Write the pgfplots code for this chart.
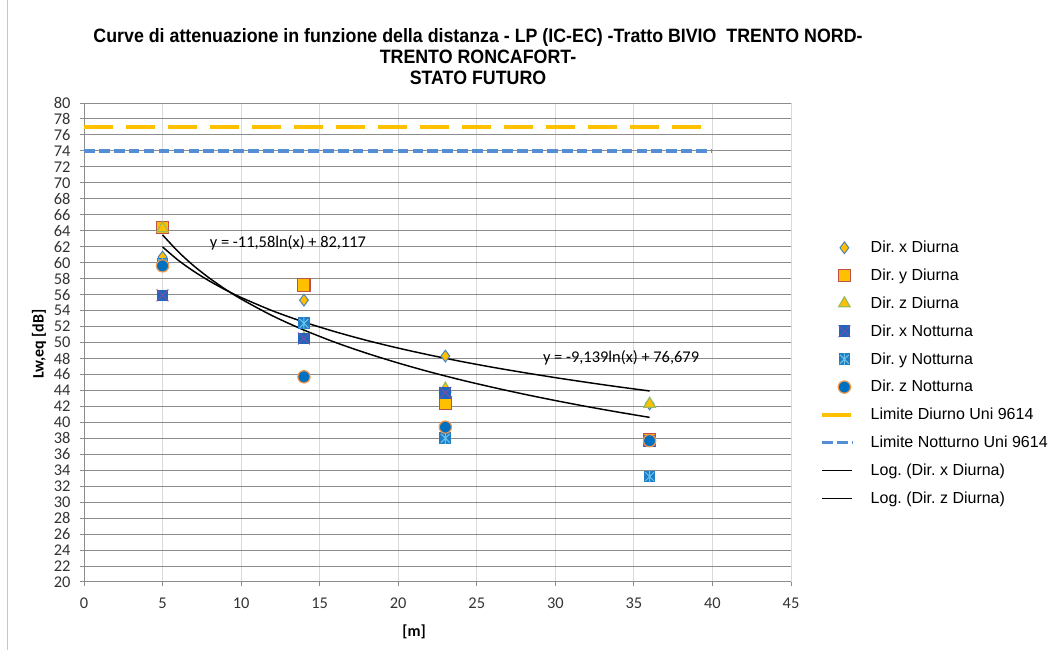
\documentclass[border=0pt]{standalone}
\usepackage{fontspec}
\setmainfont{Liberation Sans}
\newfontfamily\calibri{Carlito}
\usepackage{graphicx}
\usepackage{pgfplots}
\pgfplotsset{compat=1.18}
\frenchspacing

\definecolor{gold}{HTML}{FFC000}
\definecolor{edgeblue}{HTML}{4F81BD}
\definecolor{edgered}{HTML}{C0504D}
\definecolor{edgegreen}{HTML}{9BBB59}
\definecolor{notblue}{HTML}{1F66C1}
\definecolor{notblueb}{HTML}{1F7FC6}
\definecolor{crosspurple}{HTML}{7A4FA0}
\definecolor{starcyan}{HTML}{6CC3EA}
\definecolor{circblue}{HTML}{0070C0}
\definecolor{circedge}{HTML}{F79646}
\definecolor{limblue}{HTML}{558ED5}
\definecolor{gridh}{HTML}{8C8C8C}
\definecolor{gridv}{HTML}{D9D9D9}

% square with a cross (Excel "x" marker on a filled square)
\pgfdeclareplotmark{sqx}{%
  \pgfpathrectangle{\pgfpoint{-\pgfplotmarksize}{-\pgfplotmarksize}}{\pgfpoint{2\pgfplotmarksize}{2\pgfplotmarksize}}%
  \pgfusepath{fill}%
  \pgfsetstrokecolor{crosspurple}%
  \pgfpathmoveto{\pgfpoint{-\pgfplotmarksize}{-\pgfplotmarksize}}%
  \pgfpathlineto{\pgfpoint{\pgfplotmarksize}{\pgfplotmarksize}}%
  \pgfpathmoveto{\pgfpoint{-\pgfplotmarksize}{\pgfplotmarksize}}%
  \pgfpathlineto{\pgfpoint{\pgfplotmarksize}{-\pgfplotmarksize}}%
  \pgfusepath{stroke}}
% square with an asterisk
\pgfdeclareplotmark{sqstar}{%
  \pgfpathrectangle{\pgfpoint{-\pgfplotmarksize}{-\pgfplotmarksize}}{\pgfpoint{2\pgfplotmarksize}{2\pgfplotmarksize}}%
  \pgfusepath{fill}%
  \pgfsetstrokecolor{starcyan}%
  \pgfpathmoveto{\pgfpoint{-0.75\pgfplotmarksize}{-0.75\pgfplotmarksize}}%
  \pgfpathlineto{\pgfpoint{0.75\pgfplotmarksize}{0.75\pgfplotmarksize}}%
  \pgfpathmoveto{\pgfpoint{-0.75\pgfplotmarksize}{0.75\pgfplotmarksize}}%
  \pgfpathlineto{\pgfpoint{0.75\pgfplotmarksize}{-0.75\pgfplotmarksize}}%
  \pgfpathmoveto{\pgfpoint{0pt}{-\pgfplotmarksize}}%
  \pgfpathlineto{\pgfpoint{0pt}{\pgfplotmarksize}}%
  \pgfusepath{stroke}}

\pgfplotsset{
  markleg/.style={legend image code/.code={%
    \path (0pt,0pt) (22.5pt,0pt);
    \draw[##1] plot coordinates {(16.5pt,0pt)};}},
  lineleg/.style={legend image code/.code={%
    \draw[##1] (0pt,0pt) -- (22.5pt,0pt);}},
}

\begin{document}
\begin{tikzpicture}
\path[use as bounding box] (0pt,0pt) rectangle (789.75pt,487.5pt);
\draw[gray!45, line width=0.75pt] (5.25pt,0pt) -- (5.25pt,487.5pt);

\begin{axis}[
  at={(63pt,51pt)}, anchor=south west,
  scale only axis,
  width=530.25pt, height=359.25pt,
  xmin=0, xmax=45, ymin=20, ymax=80,
  xtick={0,5,...,45},
  ytick={20,22,...,80},
  axis x line=bottom, axis y line=left,
  axis line style={gridh, line width=0.75pt, -},
  tick align=outside,
  major tick length=3pt,
  tick style={gridh, line width=0.75pt},
  xmajorgrids, ymajorgrids,
  x grid style={gridv, line width=0.75pt},
  y grid style={gridh, line width=0.75pt},
  /pgf/number format/assume math mode=true,
  tick label style={font=\calibri\fontsize{12.3}{14}\selectfont, text=black!80},
  yticklabel style={inner sep=0pt, xshift=-7pt},
  xticklabel style={inner sep=0pt, yshift=-9pt},
  legend style={draw=none, fill=none, at={(1.036,0.733)}, anchor=north west,
    font=\fontsize{12}{14}\selectfont, row sep=0pt, column sep=12.5pt,
    nodes={inner sep=0pt, minimum height=20.9pt}},
  legend cell align=left,
]
% Dir. x Diurna
\addplot[only marks, mark=diamond*, mark size=4.4pt, mark options={fill=gold, draw=edgeblue, line width=0.75pt}, markleg]
  coordinates {(5,60.7)(14,55.3)(23,48.3)(36,42.3)};
\addlegendentry{Dir. x Diurna}
% Dir. y Diurna
\addplot[only marks, mark=square*, mark size=4.6pt, mark options={fill=gold, draw=edgered, line width=0.9pt}, markleg]
  coordinates {(5,64.4)(14,57.2)(23,42.4)(36,37.8)};
\addlegendentry{Dir. y Diurna}
% Dir. z Diurna
\addplot[only marks, mark=triangle*, mark size=5pt, mark options={fill=gold, draw=edgegreen, line width=0.9pt}, markleg]
  coordinates {(5,64.3)(14,50.5)(23,44.2)(36,42.3)};
\addlegendentry{Dir. z Diurna}
% Dir. x Notturna
\addplot[only marks, mark=sqx, mark size=4.4pt, mark options={fill=notblue, line width=0.75pt}, markleg]
  coordinates {(5,55.9)(14,50.5)(23,43.7)(36,37.7)};
\addlegendentry{Dir. x Notturna}
% Dir. y Notturna
\addplot[only marks, mark=sqstar, mark size=4.4pt, mark options={fill=notblueb, line width=0.75pt}, markleg]
  coordinates {(5,59.9)(14,52.4)(23,38.0)(36,33.2)};
\addlegendentry{Dir. y Notturna}
% Dir. z Notturna
\addplot[only marks, mark=*, mark size=4.6pt, mark options={fill=circblue, draw=circedge, line width=0.9pt}, markleg]
  coordinates {(5,59.6)(14,45.7)(23,39.4)(36,37.7)};
\addlegendentry{Dir. z Notturna}
% limits
\addplot[gold, line width=2.5pt, dash pattern=on 21.75pt off 9.75pt, lineleg]
  coordinates {(0,77)(40,77)};
\addlegendentry{Limite Diurno Uni 9614}
\addplot[limblue, line width=2.5pt, dash pattern=on 8pt off 3.2pt, lineleg]
  coordinates {(0,74)(40,74)};
\addlegendentry{Limite Notturno Uni 9614}
% logarithmic trend lines
\addplot[black, line width=1.1pt, smooth, lineleg] coordinates {
  (5,61.97)(6,60.30)(7,58.90)(8,57.68)(9,56.60)(10,55.64)(12,53.97)(14,52.56)
  (16,51.34)(18,50.26)(20,49.30)(22,48.43)(24,47.63)(26,46.90)(28,46.23)
  (30,45.60)(32,45.01)(34,44.45)(36,43.93)};
\addlegendentry{Log. (Dir. x Diurna)}
\addplot[black, line width=1.1pt, smooth, lineleg] coordinates {
  (5,63.48)(6,61.37)(7,59.58)(8,58.04)(9,56.67)(10,55.45)(12,53.34)(14,51.56)
  (16,50.01)(18,48.65)(20,47.43)(22,46.32)(24,45.31)(26,44.39)(28,43.53)
  (30,42.73)(32,41.98)(34,41.28)(36,40.62)};
\addlegendentry{Log. (Dir. z Diurna)}

\node[anchor=west, inner sep=0pt, font=\calibri\fontsize{12.3}{14}\selectfont] at (axis cs:8.0,62.5) {y = -11,58ln(x) + 82,117};
\node[anchor=west, inner sep=0pt, font=\calibri\fontsize{12.3}{14}\selectfont] at (axis cs:29.2,48.1) {y = -9,139ln(x) + 76,679};
\end{axis}

% title
\node[inner sep=0pt] at (358.5pt,443.25pt) {\resizebox{576.75pt}{\height}{%
  \bfseries\fontsize{14.5}{15.75}\selectfont
  \begin{tabular}{@{}c@{}}
  Curve di attenuazione in funzione della distanza - LP (IC-EC) -Tratto BIVIO\ \ TRENTO NORD-\\
  TRENTO RONCAFORT-\\
  STATO FUTURO
  \end{tabular}}};
% axis titles
\node[rotate=90, inner sep=0pt, font=\calibri\bfseries\fontsize{12}{14}\selectfont] at (29.25pt,229.5pt) {Lw,eq [dB]};
\node[inner sep=0pt, font=\calibri\bfseries\fontsize{12}{14}\selectfont] at (310.5pt,13.5pt) {[m]};
\end{tikzpicture}
\end{document}
